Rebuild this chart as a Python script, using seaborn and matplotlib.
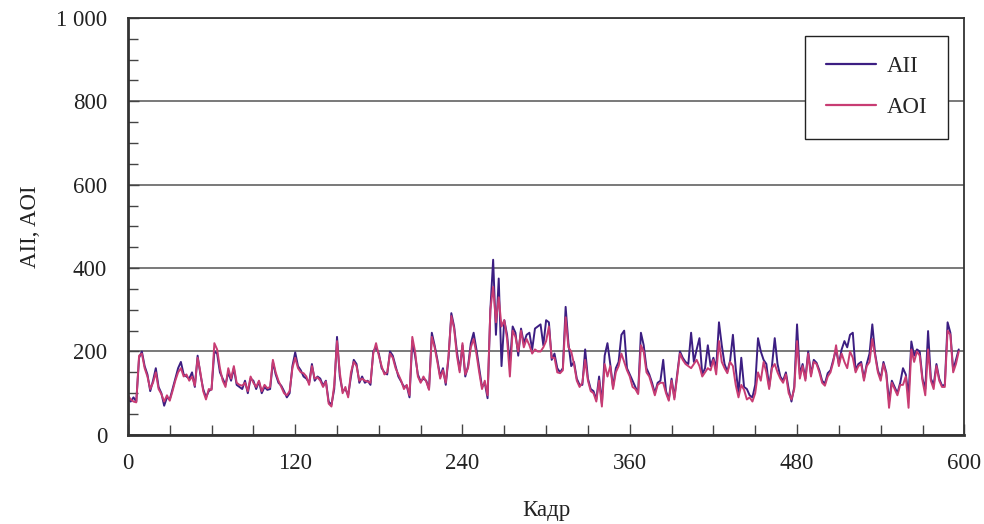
import numpy as np
import pandas as pd
import seaborn as sns
import matplotlib.pyplot as plt
from matplotlib.ticker import MultipleLocator, FuncFormatter

# Frame numbers (every second frame) and the two per-frame measures
frames = list(range(0, 598, 2))

aii = [85, 80, 90, 80, 185, 200, 165, 145, 105, 130,
       160, 115, 100, 70, 90, 85, 110, 135, 160, 175,
       145, 140, 135, 150, 115, 190, 145, 110, 90, 105,
       110, 200, 195, 150, 135, 120, 150, 130, 160, 120,
       115, 110, 130, 100, 135, 130, 110, 128, 100, 115,
       108, 110, 175, 145, 125, 118, 105, 90, 100, 165,
       198, 165, 155, 140, 135, 125, 170, 130, 140, 135,
       118, 130, 80, 72, 110, 235, 140, 105, 110, 95,
       140, 180, 170, 125, 140, 125, 130, 120, 200, 210,
       195, 160, 150, 145, 200, 190, 165, 140, 128, 115,
       118, 90, 225, 190, 145, 128, 135, 130, 110, 245,
       215, 180, 140, 160, 120, 185, 292, 260, 200, 155,
       215, 140, 165, 220, 245, 205, 160, 115, 125, 88,
       300, 420, 240, 375, 165, 275, 240, 170, 260, 245,
       190, 255, 220, 240, 245, 205, 255, 260, 265, 215,
       275, 270, 180, 195, 160, 150, 160, 307, 220, 165,
       175, 135, 120, 120, 205, 135, 110, 105, 85, 140,
       75, 190, 220, 170, 115, 160, 175, 240, 250, 160,
       145, 130, 115, 100, 245, 215, 160, 145, 125, 100,
       125, 130, 180, 105, 85, 135, 90, 145, 200, 185,
       175, 170, 245, 175, 205, 232, 145, 160, 215, 165,
       185, 160, 270, 215, 170, 152, 178, 240, 160, 100,
       185, 115, 110, 95, 90, 120, 232, 200, 180, 170,
       115, 165, 232, 170, 140, 130, 150, 110, 80, 115,
       265, 145, 170, 135, 200, 145, 180, 173, 155, 130,
       123, 148, 155, 180, 205, 170, 205, 225, 210, 240,
       245, 155, 170, 175, 135, 170, 195, 265, 195, 155,
       135, 175, 150, 80, 130, 115, 100, 125, 160, 145,
       95, 224, 190, 205, 200, 135, 110, 249, 135, 120,
       170, 135, 118, 120, 270, 245, 155, 180, 205]

aoi = [95, 85, 80, 78, 190, 195, 160, 140, 110, 125,
       150, 110, 98, 80, 95, 82, 105, 130, 150, 160,
       140, 145, 130, 140, 118, 185, 150, 105, 85, 110,
       108, 220, 205, 160, 130, 115, 160, 135, 165, 125,
       120, 118, 125, 105, 140, 125, 115, 130, 105, 120,
       112, 115, 180, 150, 130, 115, 100, 95, 105, 160,
       185, 160, 150, 148, 140, 120, 165, 135, 138, 130,
       115, 128, 75, 68, 120, 225, 150, 100, 115, 90,
       150, 175, 165, 130, 135, 130, 128, 125, 195, 220,
       190, 165, 145, 150, 195, 185, 160, 145, 130, 110,
       120, 95, 235, 200, 140, 125, 140, 128, 108, 235,
       210, 175, 135, 155, 125, 190, 285, 255, 190, 150,
       220, 145, 160, 210, 230, 195, 150, 110, 130, 95,
       300, 355, 270, 330, 260, 275, 230, 140, 250, 235,
       200, 250, 210, 230, 215, 195, 205, 200, 200, 210,
       225, 260, 185, 185, 150, 148, 155, 282, 210, 200,
       170, 130, 115, 125, 180, 130, 105, 100, 80, 130,
       68, 170, 140, 165, 110, 150, 165, 195, 175, 155,
       140, 115, 110, 98, 215, 200, 150, 140, 118, 95,
       120, 125, 125, 100, 82, 130, 85, 140, 195, 180,
       170, 165, 160, 170, 180, 165, 140, 150, 160, 155,
       180, 145, 225, 175, 160, 148, 175, 165, 120, 90,
       120, 108, 85, 90, 80, 100, 150, 130, 175, 150,
       110, 160, 170, 150, 135, 125, 145, 100, 85, 110,
       225, 135, 165, 130, 195, 140, 175, 170, 150, 125,
       118, 140, 150, 175, 215, 165, 195, 175, 160, 200,
       185, 150, 165, 170, 130, 165, 175, 230, 190, 150,
       130, 170, 145, 65, 125, 110, 95, 120, 120, 140,
       65, 205, 175, 200, 190, 130, 95, 205, 130, 110,
       165, 130, 115, 115, 250, 240, 150, 170, 200]

series_names = ["AII", "AOI"]
series_colors = ["#3c1e82", "#c83c73"]

y_ticks = [0, 200, 400, 600, 800, 1000]
x_ticks = [0, 120, 240, 360, 480, 600]

df = pd.DataFrame({
    "Кадр": frames * 2,
    "value": aii + aoi,
    "series": [series_names[0]] * len(aii) + [series_names[1]] * len(aoi),
})

sns.set_theme(style="white")
plt.rcParams["font.family"] = ["Liberation Serif", "DejaVu Serif"]

fig = plt.figure(figsize=(9.84, 5.24), dpi=100)
ax = fig.add_axes([0.130, 0.170, 0.850, 0.796])

sns.lineplot(data=df, x="Кадр", y="value", hue="series",
             hue_order=series_names, palette=series_colors,
             estimator=None, linewidth=1.4, ax=ax)

ax.set_xlim(0, 600)
ax.set_ylim(0, 1000)
ax.set_xticks(x_ticks)
ax.set_yticks(y_ticks)
ax.xaxis.set_minor_locator(MultipleLocator(30))
ax.yaxis.set_minor_locator(MultipleLocator(50))
ax.yaxis.set_major_formatter(FuncFormatter(
    lambda v, p: f"{int(v):,}".replace(",", " ")))

ax.grid(axis="y", which="major", color="#555555", linewidth=1.1)
ax.set_axisbelow(True)

ax.tick_params(axis="both", which="both", bottom=True, left=True,
               top=False, right=False)
ax.tick_params(axis="both", which="major", direction="in", length=8,
               width=1.0, color="#444444", labelsize=16.5, labelcolor="#222222")
ax.tick_params(axis="both", which="minor", direction="in", length=7,
               width=1.0, color="#444444")
ax.tick_params(axis="x", which="major", pad=13)
ax.tick_params(axis="y", which="major", pad=15)

for side in ["left", "bottom"]:
    ax.spines[side].set_linewidth(2.0)
    ax.spines[side].set_color("#333333")
for side in ["top", "right"]:
    ax.spines[side].set_linewidth(1.3)
    ax.spines[side].set_color("#333333")

ax.set_xlabel("Кадр", fontsize=16.5, color="#222222", labelpad=19)
ax.set_ylabel("AII, AOI", fontsize=16.5, color="#222222", labelpad=11)

leg = ax.legend(loc="upper right", bbox_to_anchor=(0.98, 0.957),
                fontsize=16.5, frameon=True, fancybox=False, framealpha=1,
                edgecolor="#222222", handlelength=2.2, handletextpad=0.45,
                labelspacing=0.85, borderpad=0.9, borderaxespad=0)
leg.get_frame().set_linewidth(1.0)
for line in leg.get_lines():
    line.set_linewidth(1.6)

fig.savefig("out.png", dpi=100)
